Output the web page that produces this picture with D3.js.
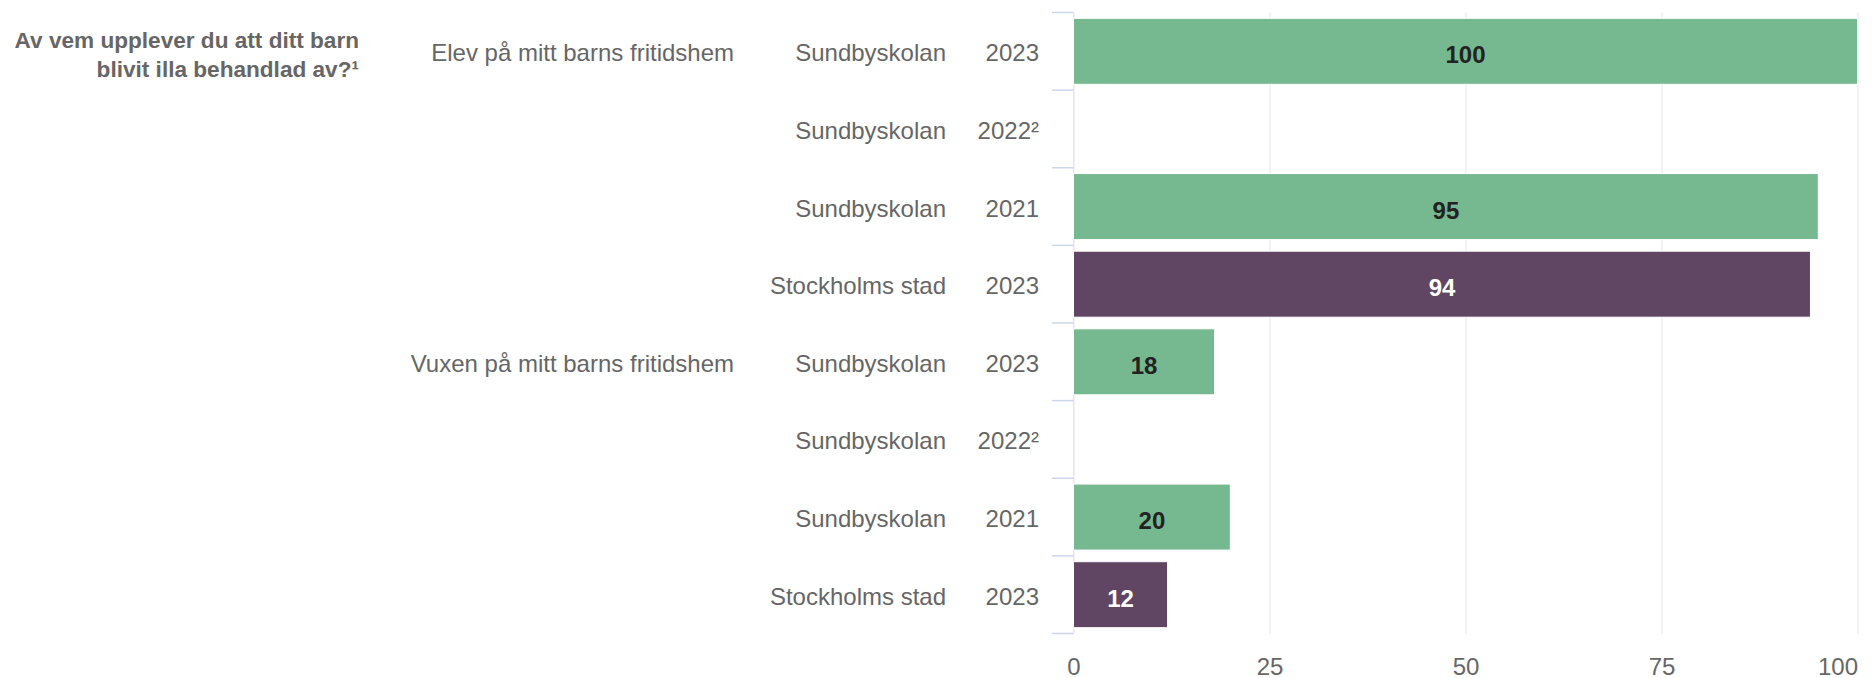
<!DOCTYPE html>
<html>
<head>
<meta charset="utf-8">
<script src="https://cdn.jsdelivr.net/npm/d3@7"></script>
<style>
  html, body { margin: 0; padding: 0; background: #fff; }
  svg { display: block; font-family: "Liberation Sans", Arial, Helvetica, sans-serif; }
</style>
</head>
<body>
<svg id="chart" width="1875" height="678"></svg>
<script>
const questionLines = ["Av vem upplever du att ditt barn", "blivit illa behandlad av?¹"];
const groups = ["Elev på mitt barns fritidshem", "Vuxen på mitt barns fritidshem"];
const units = ["Sundbyskolan", "Sundbyskolan", "Sundbyskolan", "Stockholms stad"];
const years = ["2023", "2022²", "2021", "2023"];
const unitKind = ["school", "school", "school", "city"];
const elevValues = [100, null, 95, 94];
const vuxenValues = [18, null, 20, 12];
const xTicks = [0, 25, 50, 75, 100];

const colors = {
    school: "#76b890",
    city: "#614664",
    grid: "#e6e6e6",
    tick: "#ccd6eb",
    text: "#666666"
};

// one row per group x unit
const rows = [];
groups.forEach((g, gi) => {
    const vals = gi === 0 ? elevValues : vuxenValues;
    units.forEach((u, ui) => {
        rows.push({ group: g, first: ui === 0, unit: u, year: years[ui], kind: unitKind[ui], value: vals[ui] });
    });
});

const svg = d3.select("#chart");
const plotTop = 12.5, plotBottom = 633.5;

const x = d3.scaleLinear().domain([0, 100]).range([1073.5, 1857.5]);
const y = d3.scaleBand()
    .domain(d3.range(rows.length))
    .range([plotTop, plotBottom])
    .paddingInner(0.15)
    .paddingOuter(0.075);

// grid + x axis labels
const xAxis = d3.axisBottom(x)
    .tickValues(xTicks)
    .tickSize(-(plotBottom - plotTop))
    .tickPadding(0)
    .tickFormat(d3.format("d"));

const gx = svg.append("g")
    .attr("transform", `translate(0,${plotBottom})`)
    .call(xAxis);
gx.select(".domain").remove();
gx.selectAll(".tick line").attr("stroke", colors.grid).attr("stroke-width", 1);
gx.selectAll(".tick text")
    .attr("y", 41)
    .attr("dy", 0)
    .attr("fill", colors.text)
    .style("font-size", "24px")
    .style("font-family", "'Liberation Sans', Arial, sans-serif");
// last label is pulled inside the chart edge
gx.selectAll(".tick text")
    .filter(d => d === xTicks[xTicks.length - 1])
    .attr("text-anchor", "end")
    .attr("x", 0);

// category axis line and tick marks at band edges
svg.append("line")
    .attr("x1", x(0)).attr("x2", x(0))
    .attr("y1", plotTop).attr("y2", plotBottom)
    .attr("stroke", colors.grid);

const edges = d3.range(rows.length + 1).map(i => plotTop + i * y.step());
svg.append("g").selectAll("line")
    .data(edges)
    .enter()
    .append("line")
    .attr("x1", 1052).attr("x2", x(0))
    .attr("y1", d => d).attr("y2", d => d)
    .attr("stroke", colors.tick)
    .attr("stroke-width", 1.5);

// bars
const withValue = rows.map((r, i) => ({ ...r, i })).filter(r => r.value != null);

svg.append("g").selectAll("rect")
    .data(withValue)
    .enter()
    .append("rect")
    .attr("x", x(0))
    .attr("y", d => y(d.i))
    .attr("width", d => x(d.value) - x(0))
    .attr("height", y.bandwidth())
    .attr("fill", d => colors[d.kind])
    .attr("stroke", "#fff")
    .attr("stroke-width", 1);

svg.append("g").selectAll("text")
    .data(withValue)
    .enter()
    .append("text")
    .attr("x", d => (x(0) + x(d.value)) / 2)
    .attr("y", d => y(d.i) + y.bandwidth() / 2 + 12)
    .attr("text-anchor", "middle")
    .attr("fill", d => d.kind === "city" ? "#ffffff" : "#222222")
    .style("font-size", "24px")
    .style("font-weight", "bold")
    .text(d => d.value);

// category labels
const rowCenter = i => y(i) + y.bandwidth() / 2 + 10;

svg.append("g").selectAll("text")
    .data(rows)
    .enter()
    .append("text")
    .attr("x", 1039)
    .attr("y", (d, i) => rowCenter(i))
    .attr("text-anchor", "end")
    .attr("fill", colors.text)
    .style("font-size", "24px")
    .text(d => d.year);

svg.append("g").selectAll("text")
    .data(rows)
    .enter()
    .append("text")
    .attr("x", 946)
    .attr("y", (d, i) => rowCenter(i))
    .attr("text-anchor", "end")
    .attr("fill", colors.text)
    .style("font-size", "24px")
    .text(d => d.unit);

svg.append("g").selectAll("text")
    .data(rows.map((r, i) => ({ ...r, i })).filter(r => r.first))
    .enter()
    .append("text")
    .attr("x", 734)
    .attr("y", d => rowCenter(d.i))
    .attr("text-anchor", "end")
    .attr("fill", colors.text)
    .style("font-size", "24px")
    .text(d => d.group);

// question title
svg.append("text")
    .attr("text-anchor", "end")
    .attr("fill", colors.text)
    .style("font-size", "22.6px")
    .style("font-weight", "bold")
    .selectAll("tspan")
    .data(questionLines)
    .enter()
    .append("tspan")
    .attr("x", 359)
    .attr("y", (d, i) => 47.5 + i * 29)
    .text(d => d);
</script>
</body>
</html>
